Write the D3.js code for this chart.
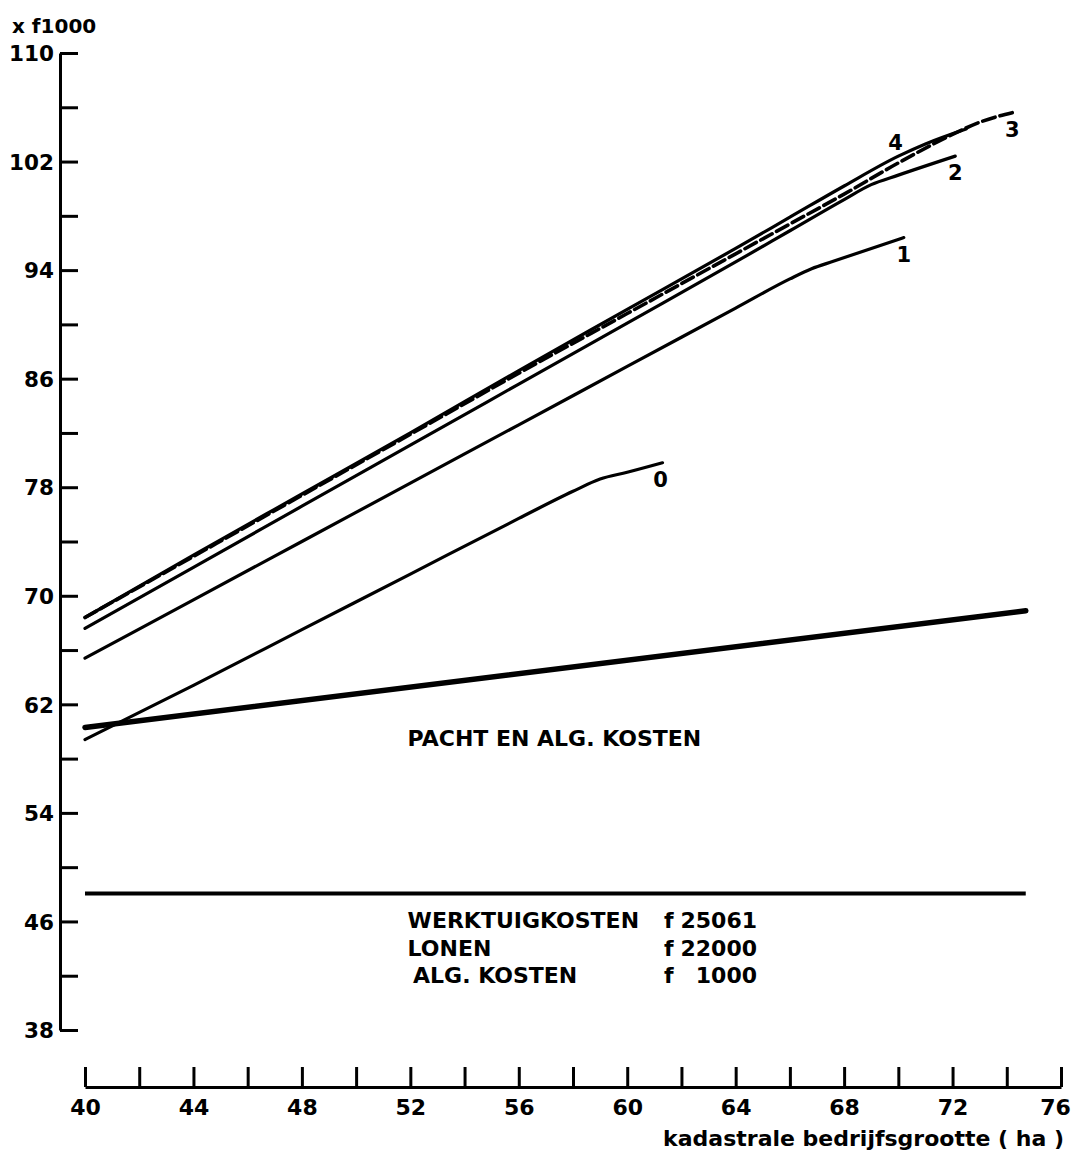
<!DOCTYPE html>
<html>
<head>
<meta charset="utf-8">
<script src="https://cdn.jsdelivr.net/npm/d3@7"></script>
<style>
  html, body { margin: 0; padding: 0; background: #fff; }
  svg { display: block; }
  text { font-family: "DejaVu Sans", sans-serif; font-weight: bold; fill: #000; }
</style>
</head>
<body>
<svg id="chart" width="1073" height="1155"></svg>
<script>
// ---------- data ----------
const seriesNames = ["0", "1", "2", "3", "4"];
const curve0X = [40, 44, 48, 52, 56, 58, 59, 60, 61.3];
const curve0Y = [59.4, 63.4, 67.5, 71.6, 75.7, 77.7, 78.6, 79.1, 79.8];
const curve1X = [40, 44, 48, 52, 56, 60, 64, 66, 66.8, 67.6, 70.2];
const curve1Y = [65.4, 69.7, 74.0, 78.3, 82.6, 86.9, 91.2, 93.35, 94.1, 94.65, 96.4];
const curve2X = [40, 44, 48, 52, 56, 60, 64, 66, 68, 69, 70, 72.1];
const curve2Y = [67.6, 72.1, 76.6, 81.1, 85.6, 90.1, 94.6, 96.9, 99.2, 100.3, 101.0, 102.4];
const curve3X = [40, 44, 48, 52, 56, 60, 64, 66, 68, 70, 72, 73, 74.2];
const curve3Y = [68.4, 72.9, 77.4, 81.9, 86.4, 90.8, 95.2, 97.4, 99.6, 101.9, 104.0, 104.9, 105.6];
const curve4X = [40, 44, 48, 52, 56, 60, 64, 66, 68, 70, 71, 72.5];
const curve4Y = [68.4, 73.0, 77.5, 82.0, 86.6, 91.1, 95.6, 97.9, 100.2, 102.4, 103.3, 104.4];
const seriesDashed = [false, false, false, true, false];
const labelAtX = [61.3, 70.2, 72.1, 74.2, 69.9];

const pachtX = [40, 74.7];
const pachtY = [60.3, 68.9];
const fixedCost = 48.061;           // werktuigkosten + lonen + alg. kosten (x f1000)
const fixedX = [40, 74.7];

const xTickValues = [40, 42, 44, 46, 48, 50, 52, 54, 56, 58, 60, 62, 64, 66, 68, 70, 72, 74, 76];
const xTickLabels = [40, 44, 48, 52, 56, 60, 64, 68, 72, 76];
const yTickValues = [38, 42, 46, 50, 54, 58, 62, 66, 70, 74, 78, 82, 86, 90, 94, 98, 102, 106, 110];
const yTickLabels = [38, 46, 54, 62, 70, 78, 86, 94, 102, 110];

const costItems = ["WERKTUIGKOSTEN", "LONEN", "ALG. KOSTEN"];
const costAmounts = ["25061", "22000", "1000"];
const pachtLabel = "PACHT EN ALG. KOSTEN";
const yUnit = "x f1000";
const xTitle = "kadastrale bedrijfsgrootte ( ha )";

// ---------- scales ----------
const svg = d3.select("#chart");
const x = d3.scaleLinear().domain([40, 76]).range([85, 1061]);
const y = d3.scaleLinear().domain([38, 110]).range([1030, 53]);

// ---------- y axis ----------
const yAxisX = 60;
const yAxis = d3.axisLeft(y)
  .tickValues(yTickValues)
  .tickSizeInner(-18)
  .tickSizeOuter(0)
  .tickPadding(6)
  .tickFormat(d => yTickLabels.includes(d) ? d : "");
const gy = svg.append("g").attr("transform", `translate(${yAxisX},0)`).call(yAxis);
gy.select(".domain").attr("stroke", "#000").attr("stroke-width", 3);
gy.selectAll(".tick line").attr("stroke", "#000").attr("stroke-width", 3);
gy.selectAll(".tick text").style("font-size", "21.5px").attr("dy", "0.36em");

svg.append("text").attr("x", 12).attr("y", 33).style("font-size", "20px").text(yUnit);

// ---------- x axis ----------
const xAxisY = 1087;
const xAxis = d3.axisBottom(x)
  .tickValues(xTickValues)
  .tickSizeInner(-20)
  .tickSizeOuter(0)
  .tickPadding(12)
  .tickFormat(d => xTickLabels.includes(d) ? d : "");
const gx = svg.append("g").attr("transform", `translate(0,${xAxisY})`).call(xAxis);
gx.select(".domain").attr("stroke", "#000").attr("stroke-width", 3);
gx.selectAll(".tick line").attr("stroke", "#000").attr("stroke-width", 3);
gx.selectAll(".tick text").style("font-size", "22px")
  .attr("dx", d => d === 76 ? -6 : 0);

svg.append("text").attr("x", 1064).attr("y", 1146).attr("text-anchor", "end")
  .style("font-size", "22px").text(xTitle);

// ---------- lines ----------
const line = d3.line().x(d => x(d[0])).y(d => y(d[1])).curve(d3.curveMonotoneX);

// fixed costs line
svg.append("path")
  .datum(fixedX.map(v => [v, fixedCost]))
  .attr("d", line).attr("fill", "none").attr("stroke", "#000").attr("stroke-width", 4);

// pacht line
svg.append("path")
  .datum(pachtX.map((v, i) => [v, pachtY[i]]))
  .attr("d", line).attr("fill", "none").attr("stroke", "#000").attr("stroke-width", 5.5)
  .attr("stroke-linecap", "round");

const seriesX = [curve0X, curve1X, curve2X, curve3X, curve4X];
const seriesY = [curve0Y, curve1Y, curve2Y, curve3Y, curve4Y];

seriesNames.forEach((name, i) => {
  const pts = seriesX[i].map((v, j) => [v, seriesY[i][j]]);
  svg.append("path")
    .datum(pts)
    .attr("d", line)
    .attr("fill", "none")
    .attr("stroke", "#000")
    .attr("stroke-width", seriesDashed[i] ? 3.6 : 3.2)
    .attr("stroke-dasharray", seriesDashed[i] ? "13,5" : null)
    .attr("stroke-linecap", "round");
  // label
  const lx = labelAtX[i];
  const ly = d3.scaleLinear().domain(seriesX[i]).range(seriesY[i])(lx);
  const dy = (i === 4) ? -15 : 17;
  svg.append("text")
    .attr("x", x(lx) + (i === 0 ? -2 : 0))
    .attr("y", y(ly) + dy)
    .attr("text-anchor", "middle")
    .attr("dominant-baseline", "central")
    .style("font-size", "21px")
    .text(name);
});

// ---------- annotations ----------
svg.append("text").attr("x", x(51.9)).attr("y", y(58.9))
  .style("font-size", "22px").text(pachtLabel);

const rowY = [45.5, 43.45, 41.5];
const rowX = [51.9, 51.9, 52.1];
costItems.forEach((t, i) => {
  svg.append("text").attr("x", x(rowX[i])).attr("y", y(rowY[i]))
    .style("font-size", "22px").text(t);
  svg.append("text").attr("x", 664).attr("y", y(rowY[i]))
    .style("font-size", "22px").text("f");
  svg.append("text").attr("x", 757).attr("y", y(rowY[i])).attr("text-anchor", "end")
    .style("font-size", "22px").text(costAmounts[i]);
});
</script>
</body>
</html>
